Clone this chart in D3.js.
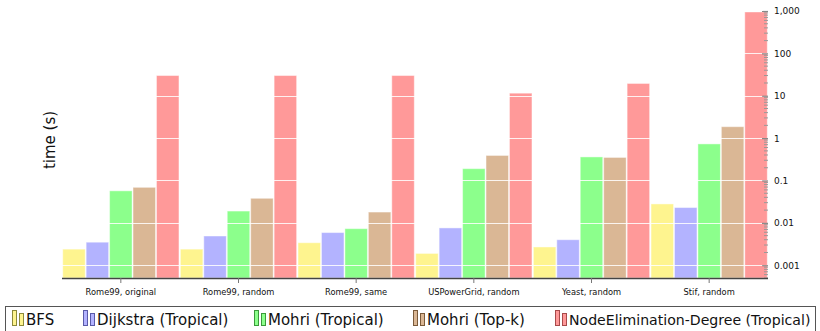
<!DOCTYPE html>
<html><head><meta charset="utf-8">
<script src="https://cdn.jsdelivr.net/npm/d3@7"></script>
<style>body{margin:0;background:#fff}svg{display:block}</style>
</head><body><svg id="c" width="820" height="331"></svg>
<script>
const categories = ["Rome99, original","Rome99, random","Rome99, same","USPowerGrid, random","Yeast, random","Stif, random"];
const seriesNames = ["BFS","Dijkstra (Tropical)","Mohri (Tropical)","Mohri (Top-k)","NodeElimination-Degree (Tropical)"];
const bfs      = [0.0024, 0.0024, 0.0034, 0.0019, 0.0027, 0.028];
const dijkstra = [0.0035, 0.0049, 0.0059, 0.0076, 0.0040, 0.023];
const mohriTrop= [0.057, 0.019, 0.0073, 0.19, 0.36, 0.73];
const mohriTopk= [0.069, 0.038, 0.018, 0.39, 0.35, 1.86];
const nodeElim = [30, 30, 30, 11.5, 19.5, 950];
const yTicks = [0.001, 0.01, 0.1, 1, 10, 100, 1000];
const yTickLabels = ["0.001","0.01","0.1","1","10","100","1,000"];
const colors = ["#fef48f","#b3b3ff","#8cff8c","#dab795","#ff9999"];
const strokes = ["#8c8a3a","#5a5aa8","#3a9a3a","#7a5a3a","#a84a4a"];

const series = [bfs, dijkstra, mohriTrop, mohriTopk, nodeElim];
const svg = d3.select("#c");
const L = 62, R = 768, T = 11, B = 278;
const x = d3.scaleBand().domain(categories).range([L, R]).padding(0);
const xi = d3.scaleBand().domain(d3.range(series.length)).range([0, x.bandwidth()]).paddingOuter(0.03).paddingInner(0.04);
const y = d3.scaleLog().domain([0.0005, 1000]).range([B, T]);

// bars
const g = svg.append("g");
series.forEach((s, si) => {
  g.selectAll(null).data(s).enter().append("rect")
    .attr("x", (d, i) => x(categories[i]) + xi(si))
    .attr("width", xi.bandwidth())
    .attr("y", d => y(d))
    .attr("height", d => B - y(d))
    .attr("fill", colors[si])
    .attr("stroke", "#ffffff").attr("stroke-opacity", 0.45).attr("stroke-width", 1);
});

// white grid lines over bars
svg.append("g").selectAll("line").data(yTicks).enter().append("line")
  .attr("x1", L).attr("x2", R)
  .attr("y1", d => Math.round(y(d)) + 0.5).attr("y2", d => Math.round(y(d)) + 0.5)
  .attr("stroke", "#fff").attr("stroke-opacity", 0.85).attr("stroke-width", 1.2);

// right axis minor ticks
const minor = [];
for (let e = -4; e <= 2; e++) for (let m = 1; m <= 9; m++) {
  const v = m * Math.pow(10, e);
  if (v >= 0.0005 && v <= 1000 && m !== 1) minor.push(v);
}
svg.append("g").selectAll("line").data(minor).enter().append("line")
  .attr("x1", R - 4).attr("x2", R)
  .attr("y1", d => y(d)).attr("y2", d => y(d))
  .attr("stroke", "#999").attr("stroke-width", 1);

const yAxis = d3.axisRight(y).tickValues(yTicks)
  .tickFormat((d, i) => yTickLabels[i]).tickSizeInner(-6).tickSizeOuter(0).tickPadding(6);
const ya = svg.append("g").attr("transform", `translate(${R},0)`).call(yAxis);
ya.select(".domain").remove();
ya.selectAll(".tick line").attr("stroke", "#888").attr("stroke-width", 1.2);
ya.selectAll(".tick text").attr("font-family", "DejaVu Sans").attr("font-size", 9).attr("fill", "#111")
  .attr("x", 6);

// bottom axis
const xAxis = d3.axisBottom(x).tickSizeInner(5).tickSizeOuter(0).tickPadding(6);
const xa = svg.append("g").attr("transform", `translate(0,${B})`).call(xAxis);
xa.select(".domain").attr("stroke", "#444").attr("stroke-width", 1.5).attr("d", `M${L},0.5H${R}`);
xa.selectAll(".tick line").attr("stroke", "#777");
xa.selectAll(".tick text").attr("font-family", "DejaVu Sans").attr("font-size", 8.3).attr("fill", "#111");

// y title
svg.append("text").attr("transform", "translate(55,140) rotate(-90)")
  .attr("text-anchor", "middle").attr("font-family", "DejaVu Sans").attr("font-size", 15)
  .attr("fill", "#111").text("time (s)");

// legend
svg.append("rect").attr("x", 5.5).attr("y", 306.5).attr("width", 810).attr("height", 30)
  .attr("fill", "#fff").attr("stroke", "#555").attr("stroke-width", 1);
const legX = [12, 83, 254, 413, 555];
seriesNames.forEach((n, i) => {
  const lg = svg.append("g").attr("transform", `translate(${legX[i]},0)`);
  lg.append("rect").attr("x", 0.5).attr("y", 310.5).attr("width", 4).attr("height", 15)
    .attr("fill", colors[i]).attr("stroke", strokes[i]).attr("stroke-width", 1);
  lg.append("rect").attr("x", 7.5).attr("y", 313.5).attr("width", 4).attr("height", 12)
    .attr("fill", colors[i]).attr("stroke", strokes[i]).attr("stroke-width", 1);
  lg.append("text").attr("x", 14).attr("y", 325).attr("font-family", "DejaVu Sans")
    .attr("font-size", i === seriesNames.length - 1 ? 14.1 : 15).attr("fill", "#111").text(n);
});
</script></body></html>
